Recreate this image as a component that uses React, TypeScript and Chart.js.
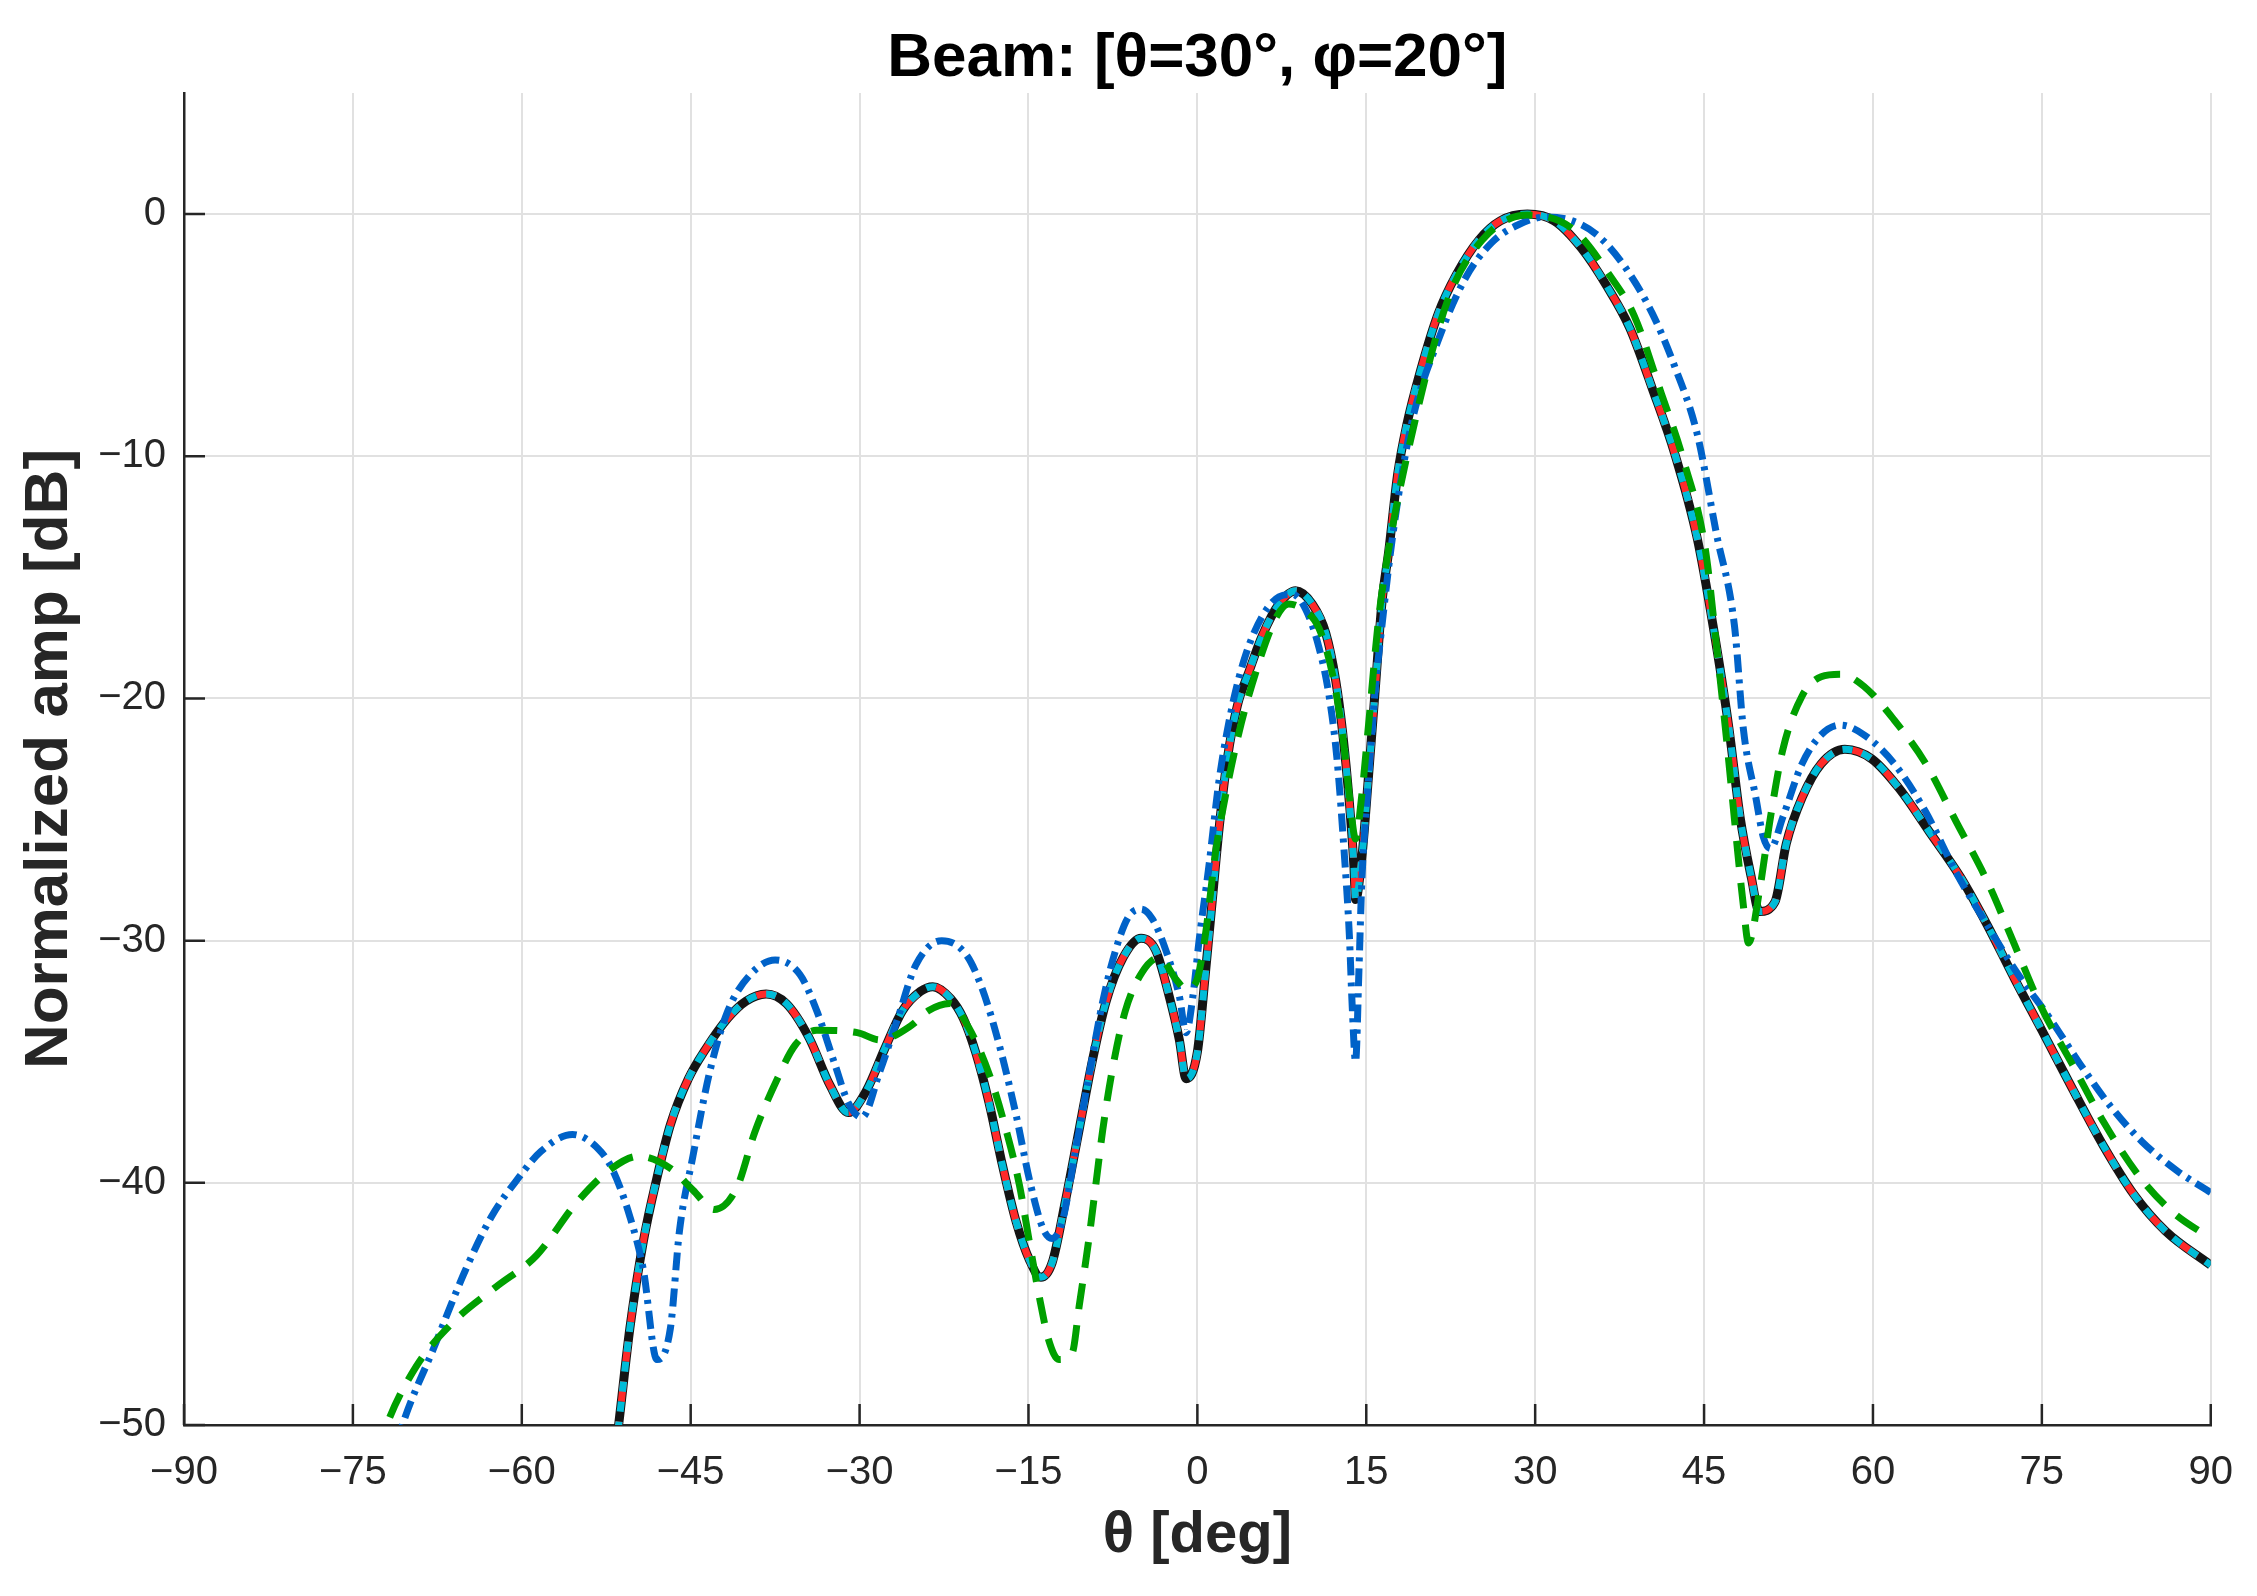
import React, { useEffect, useRef } from "react";
import { Chart, registerables } from "chart.js";

Chart.register(...registerables);

// axis ticks
const thetaTicks = [-90, -75, -60, -45, -30, -15, 0, 15, 30, 45, 60, 75, 90];
const dbTicks = [-50, -40, -30, -20, -10, 0];

// reference pattern (black / red / cyan lie on top of each other)
const refTheta = [
  -53, -51.4, -50.4, -49.2, -48.0, -46.8, -45.2, -43.7, -41.7, -40.1, -38.3, -36.5, -34.5, -32.6, -31.0,
  -29.4, -27.8, -26.2, -24.6, -23.5, -21.9, -20.8, -19.7, -18.5, -17.3, -16.1, -14.9, -13.9, -12.9, -11.7,
  -10.5, -9.3, -8.1, -6.6, -5.0, -3.7, -2.5, -1.6, -1.0, 0.0, 0.74, 1.33, 1.92, 2.66, 3.55, 4.58, 5.77, 7.25,
  8.72, 10.2, 11.4, 12.3, 12.9, 13.5, 13.9, 14.05, 14.6, 15.2, 15.8, 16.4, 17.0, 17.8, 18.6, 19.8, 21.4, 23.0,
  25.0, 26.9, 29.3, 31.7, 34.1, 36.4, 38.4, 40.4, 42.4, 44.4, 45.8, 47.2, 48.2, 49.2, 49.9, 51.3, 52.3, 53.7,
  55.4, 57.5, 59.9, 62.3, 65.0, 67.8, 70.2, 72.6, 75.0, 77.7, 80.5, 83.2, 86.0, 90.0,
];
const refDb = [
  -56, -50, -46.0, -42.4, -39.8, -37.6, -35.7, -34.5, -33.2, -32.5, -32.2, -32.6, -34.0, -36.0, -37.1,
  -36.2, -34.5, -32.9, -32.1, -31.9, -32.4, -33.2, -34.6, -36.7, -39.3, -41.6, -43.2, -43.9, -43.3, -40.7,
  -37.8, -34.9, -32.5, -30.7, -29.9, -30.4, -32.3, -34.1, -35.7, -34.6, -31.2, -28.3, -25.4, -22.5, -20.3, -18.9, -17.4, -16.1,
  -15.55, -16.1, -17.3, -19.3, -21.4, -24.3, -26.9, -28.3, -26.6, -23.2, -19.6, -16.0, -13.9, -10.7, -8.7, -6.5, -4.1, -2.5,
  -1.07, -0.28, 0, -0.28, -1.4, -3.0, -4.7, -7.2, -9.9, -13.4, -17.0, -21.2, -24.9, -27.4, -28.8, -28.4, -26.0, -24.1,
  -22.7, -22.1, -22.5, -23.7, -25.5, -27.4, -29.4, -31.6, -33.7, -36.1, -38.5, -40.5, -42.0, -43.4,
];

// blue dash-dot pattern
const blueTheta = [
  -73, -70.6, -67.8, -65.0, -62.7, -60.3, -58.3, -55.5, -53.2, -52.0, -50.4, -49.2, -48.0, -46.8, -46.0,
  -44.8, -43.3, -41.7, -39.7, -37.5, -35.3, -33.8, -32.2, -31.0, -29.8, -28.2, -26.6, -25.0, -22.7, -20.5,
  -19.1, -17.6, -16.1, -14.9, -13.7, -12.9, -12.0, -10.8, -9.6, -8.4, -7.2, -6.1, -5.0, -4.0, -2.8, -1.6,
  -1.0, -0.4, 0.15, 1.03, 1.92, 3.1, 4.29, 5.77, 7.25, 8.43, 9.6, 10.8, 11.7, 12.4, 13.0, 13.5, 13.75, 14.05,
  14.35, 14.6, 15.1, 15.8, 16.2, 17.4, 19.0, 21.4, 23.8, 26.1, 28.5, 30.9, 33.3, 35.6, 38.0, 40.4, 42.4, 44.4,
  46.1, 47.7, 48.5, 49.6, 50.25, 50.9, 52.0, 53.7, 55.4, 57.1, 59.2, 61.9, 64.7, 67.4, 70.2, 72.9, 75.7,
  78.4, 81.2, 83.9, 87.0, 90.0,
];
const blueDb = [
  -54, -50, -46.8, -43.6, -41.4, -39.8, -38.7, -38.0, -38.6, -39.4, -41.4, -43.6, -47.3, -46.0, -42.0,
  -38.9, -35.4, -32.9, -31.4, -30.8, -31.4, -32.9, -35.1, -36.7, -37.3, -35.4, -33.2, -31.0, -30.0, -30.6,
  -32.0, -34.3, -37.2, -39.9, -41.9, -42.3, -41.6, -38.6, -35.5, -32.5, -30.3, -29.0, -28.7, -29.1, -30.4, -32.3,
  -33.8, -32.3, -30.0, -26.9, -23.4, -20.3, -18.2, -16.6, -15.8, -15.7, -16.3, -17.9, -19.9, -22.5, -26.1, -29.8, -32.7, -35.0,
  -31.2, -27.6, -24.0, -19.6, -17.8, -13.1, -8.7, -5.2, -2.65, -1.2, -0.44, -0.12, -0.28, -0.9, -2.2, -4.1, -6.3, -9.1,
  -13.2, -17.0, -21.3, -24.1, -25.7, -26.2, -24.9, -22.7, -21.5, -21.1, -21.5, -22.7, -24.7, -27.2, -29.4, -31.4, -33.2,
  -35.1, -36.9, -38.3, -39.5, -40.4,
];

// green dashed pattern
const greenTheta = [
  -74, -72.0, -69.4, -66.2, -62.3, -58.7, -55.1, -52.0, -49.6, -46.8, -44.8, -42.9, -40.9, -39.3, -37.3,
  -35.7, -33.8, -30.2, -28.2, -25.4, -23.9, -22.0, -20.3, -18.5, -17.0, -15.8, -14.9, -14.0, -13.2, -12.3,
  -11.1, -10.5, -9.6, -9.0, -8.4, -7.5, -6.4, -4.9, -3.4, -1.9, -1.0, -0.1, 0.7, 1.6, 2.5, 3.7, 5.2, 6.95,
  8.1, 9.3, 10.8, 12.0, 12.9, 13.5, 14.05, 14.6, 15.2, 16.1, 17.0, 19.0, 22.2, 25.3, 29.3, 33.3, 36.8, 38.8,
  41.2, 43.2, 45.1, 46.1, 47.0, 47.85, 48.5, 48.95, 49.9, 50.9, 52.0, 53.7, 55.4, 57.1, 59.2, 61.9, 64.7,
  67.4, 70.2, 72.6, 75.0, 77.7, 80.5, 83.6, 86.6, 90.0,
];
const greenDb = [
  -53, -50, -47.6, -45.8, -44.3, -43.0, -40.8, -39.4, -38.9, -39.4, -40.3, -41.1, -40.2, -37.9, -35.7,
  -34.3, -33.7, -33.8, -34.1, -33.5, -32.9, -32.6, -33.6, -35.5, -37.8, -40.1, -42.5, -44.8, -46.5, -47.3,
  -47.0, -45.1, -42.2, -40.0, -37.8, -35.2, -32.9, -31.3, -30.7, -31.6, -32.0, -31.7, -29.8, -26.4, -24.0, -21.4, -18.9, -16.7,
  -16.1, -16.3, -17.1, -19.0, -21.5, -24.0, -25.8, -24.0, -21.1, -16.7, -13.8, -9.2, -3.6, -1.07, -0.04, -0.6, -2.65, -4.2,
  -7.4, -10.2, -13.8, -17.8, -21.7, -25.7, -28.6, -30.1, -28.0, -24.9, -22.1, -19.9, -19.1, -19.0, -19.5, -20.9, -22.7,
  -25.1, -27.6, -30.2, -32.8, -35.1, -37.5, -39.7, -41.2, -42.3,
];

const toPoints = (xs: number[], ys: number[]) => xs.map((x, i) => ({ x, y: ys[i] }));
const fmtTick = (v: number | string) => {
  const n = Number(v);
  return n < 0 ? `\u2212${Math.abs(n)}` : `${n}`;
};

const AXIS_COLOR = "#262626";

// Matlab-style ticks pointing into the plot
const inwardTicks = {
  id: "inwardTicks",
  beforeDatasetsDraw(chart: any) {
    const { ctx, chartArea, scales } = chart;
    ctx.save();
    ctx.strokeStyle = AXIS_COLOR;
    ctx.lineWidth = 2.5;
    ctx.beginPath();
    thetaTicks.forEach((t) => {
      const px = scales.x.getPixelForValue(t);
      ctx.moveTo(px, chartArea.bottom);
      ctx.lineTo(px, chartArea.bottom - 21);
    });
    dbTicks.forEach((v) => {
      const py = scales.y.getPixelForValue(v);
      ctx.moveTo(chartArea.left, py);
      ctx.lineTo(chartArea.left + 21, py);
    });
    ctx.stroke();
    ctx.restore();
  },
};

const lineBase = {
  pointRadius: 0,
  fill: false,
  cubicInterpolationMode: "monotone" as const,
  clip: 0,
};

export default function App() {
  const canvasRef = useRef<HTMLCanvasElement>(null);

  useEffect(() => {
    document.body.style.margin = "0";
    if (!canvasRef.current) return;
    Chart.defaults.font.family = "'Liberation Sans', Arial, sans-serif";

    const refPts = toPoints(refTheta, refDb);
    const chart = new Chart(canvasRef.current, {
      type: "line",
      data: {
        datasets: [
          // first dataset is drawn on top
          { ...lineBase, label: "green", data: toPoints(greenTheta, greenDb), borderColor: "#00a000", borderWidth: 7, borderDash: [26, 16] },
          { ...lineBase, label: "blue", data: toPoints(blueTheta, blueDb), borderColor: "#0062c8", borderWidth: 7, borderDash: [18, 7, 4, 7] },
          { ...lineBase, label: "cyan", data: refPts, borderColor: "#00bcd8", borderWidth: 7, borderDash: [10, 10] },
          { ...lineBase, label: "red", data: refPts, borderColor: "#ff2a2a", borderWidth: 7, borderDash: [20, 20], borderDashOffset: 30 },
          { ...lineBase, label: "black", data: refPts, borderColor: "#141414", borderWidth: 9 },
        ],
      },
      options: {
        animation: false,
        responsive: false,
        devicePixelRatio: 1,
        layout: { padding: { left: 0, right: 44, top: 0, bottom: 0 } },
        plugins: {
          legend: { display: false },
          tooltip: { enabled: false },
          title: {
            display: true,
            fullSize: false,
            text: "Beam: [\u03b8=30\u00b0, \u03c6=20\u00b0]",
            color: "#000000",
            font: { size: 62, weight: "bold", lineHeight: 1 },
            padding: { top: 28, bottom: 3 },
          },
        },
        scales: {
          x: {
            type: "linear",
            min: -90,
            max: 90,
            afterBuildTicks: (s: any) => {
              s.ticks = thetaTicks.map((value) => ({ value }));
            },
            afterFit: (s: any) => {
              s.height = 171;
            },
            ticks: { callback: fmtTick, font: { size: 40 }, color: AXIS_COLOR, padding: 24, autoSkip: false, maxRotation: 0 },
            grid: { color: "#e1e1e1", lineWidth: 2, drawTicks: false },
            border: { color: AXIS_COLOR, width: 2.5 },
            title: {
              display: true,
              text: "\u03b8 [deg]",
              color: AXIS_COLOR,
              font: { size: 58, weight: "bold" },
              padding: { top: 0, bottom: 25 },
            },
          },
          y: {
            type: "linear",
            min: -50,
            max: 5,
            afterBuildTicks: (s: any) => {
              s.ticks = dbTicks.map((value) => ({ value }));
            },
            afterFit: (s: any) => {
              s.width = 184;
            },
            ticks: { callback: fmtTick, font: { size: 40 }, color: AXIS_COLOR, padding: 18 },
            grid: { color: "#e1e1e1", lineWidth: 2, drawTicks: false },
            border: { color: AXIS_COLOR, width: 2.5 },
            title: {
              display: true,
              text: "Normalized amp [dB]",
              color: AXIS_COLOR,
              font: { size: 62, weight: "bold" },
              padding: { top: 13, bottom: 0 },
            },
          },
        },
      },
      plugins: [inwardTicks],
    });
    return () => {
      chart.destroy();
    };
  }, []);

  return (
    <div style={{ width: 2257, height: 1596, background: "#ffffff" }}>
      <canvas ref={canvasRef} width={2257} height={1596} />
    </div>
  );
}
